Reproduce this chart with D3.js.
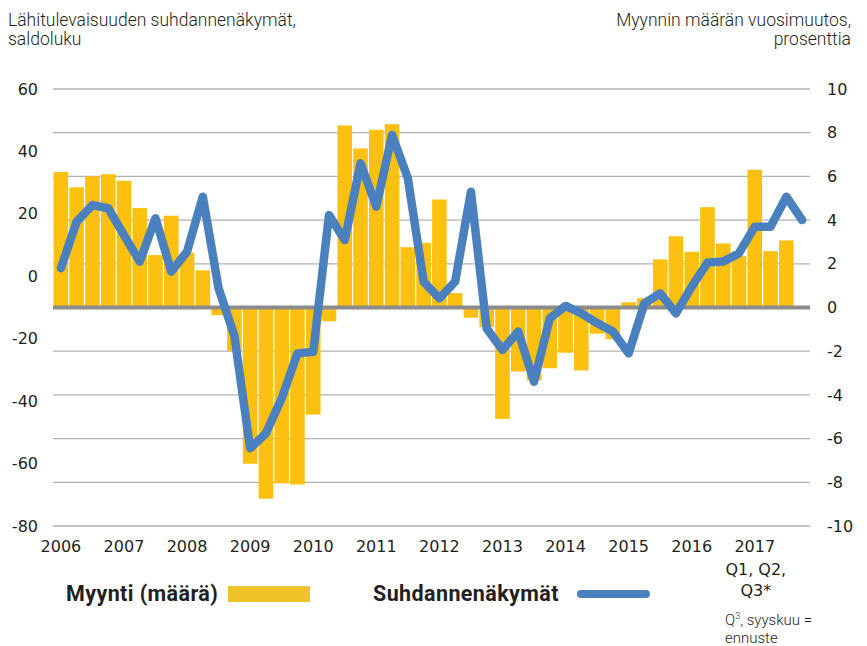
<!DOCTYPE html>
<html>
<head>
<meta charset="utf-8">
<script src="https://cdn.jsdelivr.net/npm/d3@7"></script>
<style>
  body { margin: 0; background: #fff; }
  svg text { fill: #231f20; }
  .tick text { font-family: "DejaVu Sans", sans-serif; font-size: 16px; }
  .ttl { font-family: "Roboto", sans-serif; font-size: 17.5px; font-weight: 300; }
  .leg { font-family: "Roboto", sans-serif; font-size: 21.5px; font-weight: 700; letter-spacing: 0.4px; }
</style>
</head>
<body>
<div id="container"></div>
<script>
// quarters 2006Q1 .. 2017Q4
var years = d3.range(2006, 2018);
var quarters = [];
years.forEach(function(y){ [1,2,3,4].forEach(function(q){ quarters.push(y + 'Q' + q); }); });

// Myynnin määrän vuosimuutos, % (right axis), 2006Q1..2017Q3
var salesChange = [
  6.2, 5.5, 6.0, 6.1,   5.8, 4.55, 2.4, 4.2,   2.5, 1.7, -0.35, -2.0,
  -7.15, -8.75, -8.05, -8.1,   -4.9, -0.63, 8.33, 7.28,   8.13, 8.39, 2.76, 2.96,
  4.94, 0.66, -0.47, -0.9,   -5.1, -2.93, -3.34, -2.78,   -2.07, -2.88, -1.2, -1.45,
  0.24, 0.43, 2.2, 3.26,   2.55, 4.59, 2.93, 2.35,   6.3, 2.58, 3.07
];

// Lähitulevaisuuden suhdannenäkymät, saldoluku (left axis), 2006Q1..2017Q4
var outlook = [
  2.6, 17.5, 22.8, 21.8,   13.2, 4.7, 18.6, 1.5,   7.9, 25.5, -3.9, -19.0,
  -55.1, -50.3, -39.1, -24.7,   -24.2, 19.6, 11.6, 36.2,   22.3, 45.3, 31.4, -1.7,
  -7.1, -1.7, 27.1, -16.7,   -23.6, -17.7, -33.8, -13.5,   -9.5, -11.9, -15.0, -17.7,
  -24.7, -8.7, -5.5, -11.9,   -3.3, 4.4, 4.7, 7.4,   15.9, 15.9, 25.5, 18.0
];

var leftTicks = [-80, -60, -40, -20, 0, 20, 40, 60];
var rightTicks = [-10, -8, -6, -4, -2, 0, 2, 4, 6, 8, 10];

var W = 867, H = 646;
var plotL = 53, plotR = 810, plotT = 89, plotB = 526;

var svg = d3.select('#container').append('svg')
  .attr('width', W).attr('height', H);

var x = d3.scaleBand().domain(quarters).range([plotL, plotR])
  .paddingInner(0.075).paddingOuter(0.0375);
var yL = d3.scaleLinear().domain([-80, 60]).range([plotB, plotT]);
var yR = d3.scaleLinear().domain([-10, 10]).range([plotB, plotT]);
var cx = function(q){ return x(q) + x.bandwidth() / 2; };
var plain = function(d){ return String(d); };   // hyphen minus, as in the original

// grid
svg.append('g').selectAll('line').data(rightTicks.filter(function(d){ return d !== 0; }))
  .enter().append('line')
  .attr('x1', plotL).attr('x2', plotR)
  .attr('y1', function(d){ return yR(d); }).attr('y2', function(d){ return yR(d); })
  .attr('stroke', '#b2b2b2').attr('stroke-width', 1.3);

// bars
svg.append('g').selectAll('rect').data(salesChange).enter()
  .append('rect')
  .attr('x', function(d, i){ return x(quarters[i]); })
  .attr('width', x.bandwidth())
  .attr('y', function(d){ return yR(Math.max(0, d)); })
  .attr('height', function(d){ return Math.abs(yR(d) - yR(0)); })
  .attr('fill', '#fcc010');

// zero line
svg.append('line')
  .attr('x1', plotL).attr('x2', plotR)
  .attr('y1', yR(0)).attr('y2', yR(0))
  .attr('stroke', '#8c8c8c').attr('stroke-width', 4);

// outlook line
var line = d3.line()
  .x(function(d, i){ return cx(quarters[i]); })
  .y(function(d){ return yL(d); });
svg.append('path').datum(outlook)
  .attr('d', line)
  .attr('fill', 'none')
  .attr('stroke', '#4a80bd')
  .attr('stroke-width', 8.5)
  .attr('stroke-linejoin', 'round')
  .attr('stroke-linecap', 'round');

// axes
var axL = svg.append('g').attr('transform', 'translate(' + plotL + ',0)')
  .call(d3.axisLeft(yL).tickValues(leftTicks).tickFormat(plain).tickSize(0).tickPadding(15));
var axR = svg.append('g').attr('transform', 'translate(' + plotR + ',0)')
  .call(d3.axisRight(yR).tickValues(rightTicks).tickFormat(plain).tickSize(0).tickPadding(17));
var axX = svg.append('g').attr('transform', 'translate(0,' + plotB + ')')
  .call(d3.axisBottom(x)
    .tickValues(years.map(function(y){ return y + 'Q1'; }))
    .tickFormat(function(d){ return d.slice(0, 4); })
    .tickSize(0).tickPadding(15));
[axL, axR, axX].forEach(function(a){
  a.select('.domain').remove();
  a.selectAll('text').attr('fill', '#231f20');
});

// titles
svg.append('text').attr('class', 'ttl').attr('x', 8).attr('y', 26).text('Lähitulevaisuuden suhdannenäkymät,');
svg.append('text').attr('class', 'ttl').attr('x', 8).attr('y', 45).text('saldoluku');
svg.append('text').attr('class', 'ttl').attr('x', 851).attr('y', 26).attr('text-anchor', 'end').text('Myynnin määrän vuosimuutos,');
svg.append('text').attr('class', 'ttl').attr('x', 851).attr('y', 45).attr('text-anchor', 'end').text('prosenttia');

// 2017 note
var q17 = cx('2017Q1');
['Q1, Q2,', 'Q3*'].forEach(function(t, i){
  svg.append('text').attr('x', q17 + 1).attr('y', 575 + i * 21)
    .attr('text-anchor', 'middle')
    .style('font-family', '"DejaVu Sans", sans-serif').style('font-size', '16px')
    .text(t);
});
var note = svg.append('text').attr('class', 'ttl').attr('x', 725).attr('y', 625).style('font-size', '15px');
note.append('tspan').text('Q');
note.append('tspan').attr('dy', -6).style('font-size', '9px').text('3');
note.append('tspan').attr('dy', 6).text(', syyskuu =');
svg.append('text').attr('class', 'ttl').attr('x', 725).attr('y', 643).style('font-size', '15px').text('ennuste');

// legend
svg.append('text').attr('class', 'leg').attr('x', 66).attr('y', 601).text('Myynti (määrä)');
svg.append('rect').attr('x', 228).attr('y', 586).attr('width', 82).attr('height', 16).attr('fill', '#eec32a');
svg.append('text').attr('class', 'leg').attr('x', 373).attr('y', 601).text('Suhdannenäkymät');
svg.append('line').attr('x1', 581).attr('x2', 646).attr('y1', 594).attr('y2', 594)
  .attr('stroke', '#4a80bd').attr('stroke-width', 8).attr('stroke-linecap', 'round');
</script>
</body>
</html>
